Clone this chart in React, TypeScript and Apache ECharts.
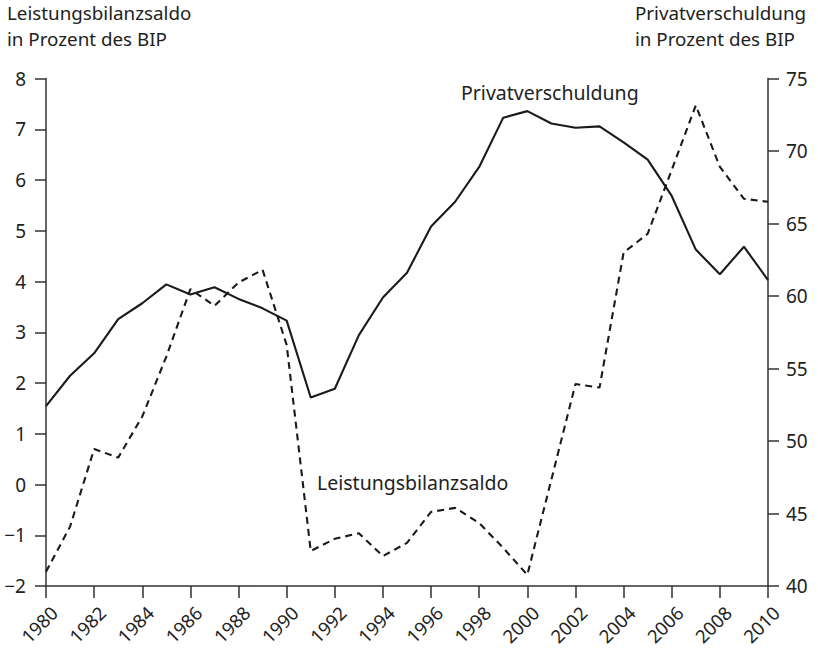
import React, { useEffect, useRef } from "react";
import * as echarts from "echarts";

const years = [
  1980, 1981, 1982, 1983, 1984, 1985, 1986, 1987, 1988, 1989, 1990, 1991, 1992, 1993, 1994, 1995,
  1996, 1997, 1998, 1999, 2000, 2001, 2002, 2003, 2004, 2005, 2006, 2007, 2008, 2009, 2010,
];
const privatverschuldung = [
  52.4, 54.5, 56.05, 58.4, 59.5, 60.8, 60.1, 60.6, 59.8, 59.15, 58.3, 53.0, 53.6, 57.3, 59.9, 61.6,
  64.8, 66.5, 68.9, 72.3, 72.75, 71.9, 71.6, 71.7, 70.6, 69.4, 66.9, 63.2, 61.5, 63.4, 61.1,
];
const leistungsbilanzsaldo = [
  -1.72, -0.83, 0.7, 0.53, 1.34, 2.52, 3.85, 3.52, 3.98, 4.23, 2.75, -1.31, -1.07, -0.96, -1.41, -1.15,
  -0.54, -0.46, -0.76, -1.25, -1.78, 0.1, 1.98, 1.91, 4.57, 4.94, 6.2, 7.47, 6.26, 5.63, 5.57,
];
const leftTitle = ["Leistungsbilanzsaldo", "in Prozent des BIP"];
const rightTitle = ["Privatverschuldung", "in Prozent des BIP"];
const seriesNames = ["Privatverschuldung", "Leistungsbilanzsaldo"];

const FONT = "'Noto Sans', 'Open Sans', sans-serif";
const TXT = "#222";
const AX = "#333";

export default function App() {
  const ref = useRef<HTMLDivElement>(null);
  useEffect(() => {
    if (!ref.current) return;
    const chart = echarts.init(ref.current, undefined, { renderer: "svg" });
    const minus = (v: number) => String(v).replace("-", "\u2212");
    const axisCommon = {
      axisLine: { show: true, lineStyle: { color: AX, width: 1.5 } },
      axisTick: { show: true, inside: false, length: 11, lineStyle: { color: AX, width: 1.5 } },
      splitLine: { show: false },
      axisLabel: { color: TXT, fontSize: 19, fontFamily: FONT, margin: 20, formatter: minus },
    };
    const label = (text: string, left: number, top: number, size: number) => ({
      type: "text",
      left,
      top,
      style: { text, font: `${size}px ${FONT}`, fill: TXT },
    });
    chart.setOption({
      animation: false,
      backgroundColor: "#fff",
      grid: [
        { left: 46, right: 50, top: 78.5, bottom: 62, containLabel: false },
        // label-only grid, shifted right so the rotated year labels sit like the reference
        { left: 54, right: 42, top: 78.5, bottom: 62, containLabel: false },
      ],
      xAxis: [
        {
          type: "value",
          gridIndex: 0,
          min: 1980,
          max: 2010,
          interval: 2,
          axisLine: { show: true, onZero: false, lineStyle: { color: AX, width: 1.5 } },
          axisTick: { show: true, length: 12, lineStyle: { color: AX, width: 1.5 } },
          splitLine: { show: false },
          axisLabel: { show: false },
        },
        {
          type: "value",
          gridIndex: 1,
          min: 1980,
          max: 2010,
          interval: 2,
          axisLine: { show: false },
          axisTick: { show: false },
          splitLine: { show: false },
          axisLabel: {
            color: TXT,
            fontSize: 18.5,
            fontFamily: FONT,
            rotate: 45,
            margin: 25,
            formatter: (v: number) => String(v),
          },
        },
      ],
      yAxis: [
        { type: "value", gridIndex: 0, min: -2, max: 8, interval: 1, position: "left", ...axisCommon },
        {
          type: "value",
          gridIndex: 0,
          min: 40,
          max: 75,
          interval: 5,
          position: "right",
          ...axisCommon,
          axisLabel: { ...axisCommon.axisLabel, margin: 18 },
        },
        { type: "value", gridIndex: 1, min: 0, max: 1, show: false },
      ],
      series: [
        {
          name: seriesNames[0],
          type: "line",
          xAxisIndex: 0,
          yAxisIndex: 1,
          data: years.map((y, i) => [y, privatverschuldung[i]]),
          showSymbol: false,
          lineStyle: { color: "#1a1a1a", width: 2.1 },
          z: 3,
        },
        {
          name: seriesNames[1],
          type: "line",
          xAxisIndex: 0,
          yAxisIndex: 0,
          data: years.map((y, i) => [y, leistungsbilanzsaldo[i]]),
          showSymbol: false,
          lineStyle: { color: "#1a1a1a", width: 2.1, type: [7, 5] },
          z: 3,
        },
      ],
      graphic: [
        label(leftTitle[0], 7, 3.5, 18.8),
        label(leftTitle[1], 7, 29.5, 18.8),
        label(rightTitle[0], 635, 3, 18.8),
        label(rightTitle[1], 635, 29, 18.8),
        label(seriesNames[0], 461, 82, 19.5),
        label(seriesNames[1], 317, 472, 19.5),
      ],
    });
    return () => chart.dispose();
  }, []);
  return (
    <div
      ref={ref}
      style={{ position: "fixed", left: 0, top: 0, width: 818, height: 648, background: "#fff" }}
    />
  );
}
